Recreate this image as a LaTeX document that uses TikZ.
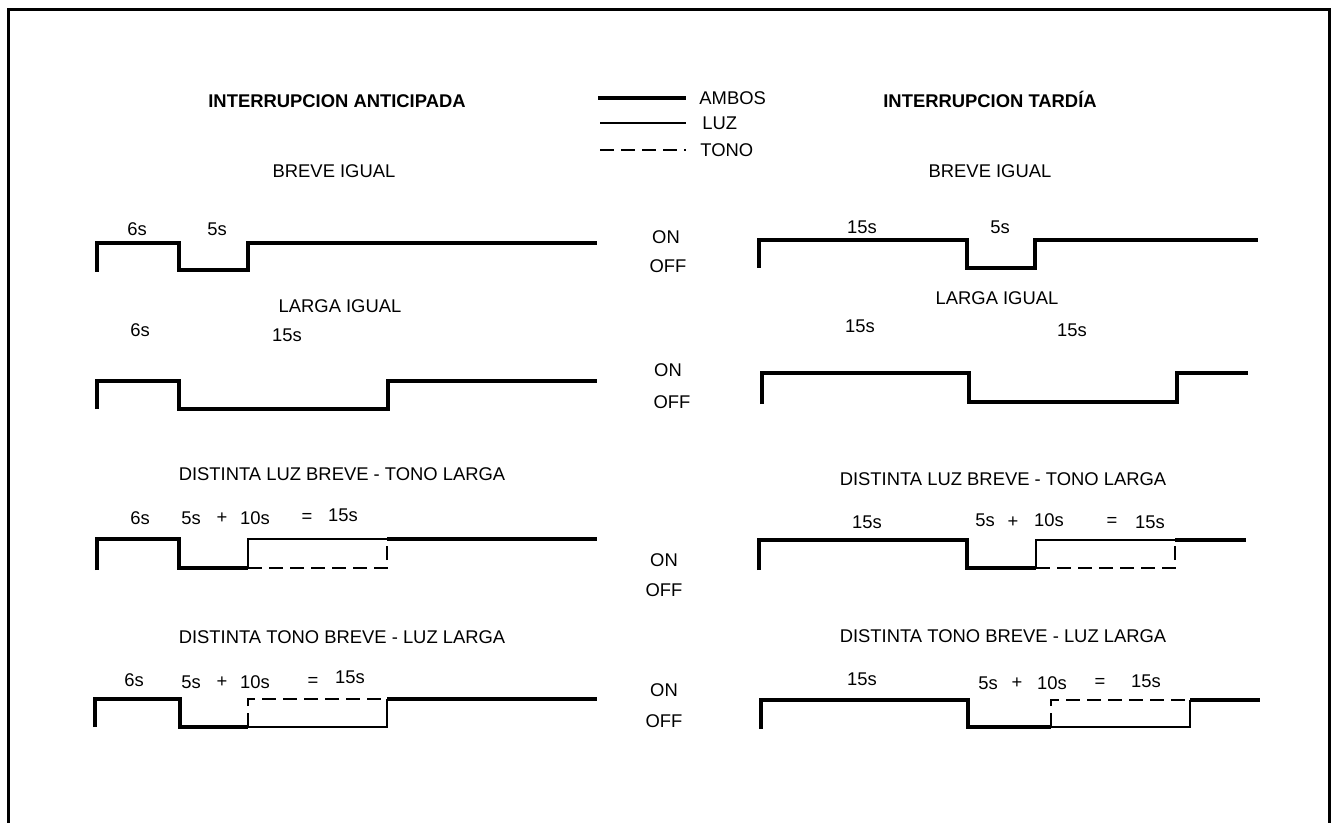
\documentclass[tikz,border=0pt]{standalone}
\usepackage{fontspec}
\setmainfont{Liberation Sans}
\begin{document}
\begin{tikzpicture}[x=0.5pt,y=-0.5pt,
  every node/.style={font=\fontsize{9.2pt}{11pt}\selectfont, inner sep=0pt},
  ttl/.style={font=\fontsize{9.2pt}{11pt}\selectfont\bfseries},
  ambos/.style={line width=2pt},
  luz/.style={line width=0.8pt},
  tono/.style={line width=1pt, dash pattern=on 7pt off 3.5pt},
  frame/.style={line width=1.5pt}]
\useasboundingbox (0,0) rectangle (1332,823);
\draw[frame] (8,835) -- (8,10) -- (1329,10) -- (1329,835);

% titles
\node[ttl] (tl) at (337,101) {INTERRUPCION ANTICIPADA};
\node[ttl] (tr) at (990,99) {INTERRUPCION TARD\'IA};

% legend
\coordinate (la1) at (598,98); \coordinate (la2) at (686,98);
\coordinate (lb1) at (600,123); \coordinate (lb2) at (686,123);
\coordinate (lc1) at (600,150); \coordinate (lc2) at (686,150);
\draw[ambos] (la1) -- (la2);
\draw[luz] (lb1) -- (lb2);
\draw[tono] (lc1) -- (lc2);
\node[anchor=west] (lga) at (699,98) {AMBOS};
\node[anchor=west] (lgb) at (702,123) {LUZ};
\node[anchor=west] (lgc) at (700,150) {TONO};

% ---------- left column ----------
\node (l1t) at (334,171) {BREVE IGUAL};
\node (l1a) at (137,229) {6s};
\node (l1b) at (217,229) {5s};
\draw[ambos] (97,272) -- (97,243) -- (179,243) -- (179,270) -- (248,270) -- (248,243) -- (597,243);

\node (l2t) at (340,306) {LARGA IGUAL};
\node (l2a) at (140,330) {6s};
\node (l2b) at (287,335) {15s};
\draw[ambos] (97,409) -- (97,381) -- (179,381) -- (179,409) -- (388,409) -- (388,381) -- (597,381);

\node (l3t) at (342,474) {DISTINTA LUZ BREVE - TONO LARGA};
\node (l3a) at (140,518) {6s};
\node (l3b) at (191,518) {5s};
\node (l3c) at (222,518) {+};
\node (l3d) at (255,518) {10s};
\node (l3e) at (307,518) {=};
\node (l3f) at (343,515) {15s};
\draw[ambos] (97,570) -- (97,539) -- (179,539) -- (179,568) -- (248,568);
\draw[luz] (248,568) -- (248,539) -- (387,539);
\draw[tono] (248,568) -- (387,568) -- (387,539);
\draw[ambos] (387,539) -- (597,539);

\node (l4t) at (342,637) {DISTINTA TONO BREVE - LUZ LARGA};
\node (l4a) at (134,680) {6s};
\node (l4b) at (191,682) {5s};
\node (l4c) at (222,682) {+};
\node (l4d) at (255,682) {10s};
\node (l4e) at (313,682) {=};
\node (l4f) at (350,677) {15s};
\draw[ambos] (95,727) -- (95,699) -- (180,699) -- (180,727) -- (248,727);
\draw[tono] (248,727) -- (248,699) -- (385,699);
\draw[luz] (248,727) -- (387,727) -- (387,699);
\draw[ambos] (387,699) -- (597,699);

% ---------- middle ON / OFF ----------
\node (on1) at (666,237) {ON};  \node (of1) at (668,266) {OFF};
\node (on2) at (668,370) {ON};  \node (of2) at (672,402) {OFF};
\node (on3) at (664,560) {ON};  \node (of3) at (664,590) {OFF};
\node (on4) at (664,690) {ON};  \node (of4) at (664,721) {OFF};

% ---------- right column ----------
\node (r1t) at (990,171) {BREVE IGUAL};
\node (r1a) at (862,227) {15s};
\node (r1b) at (1000,227) {5s};
\draw[ambos] (759,268) -- (759,240) -- (967,240) -- (967,268) -- (1035,268) -- (1035,240) -- (1258,240);

\node (r2t) at (997,298) {LARGA IGUAL};
\node (r2a) at (860,326) {15s};
\node (r2b) at (1072,330) {15s};
\draw[ambos] (762,404) -- (762,373) -- (969,373) -- (969,402) -- (1177,402) -- (1177,373) -- (1248,373);

\node (r3t) at (1003,479) {DISTINTA LUZ BREVE - TONO LARGA};
\node (r3a) at (867,522) {15s};
\node (r3b) at (985,520) {5s};
\node (r3c) at (1013,522) {+};
\node (r3d) at (1049,520) {10s};
\node (r3e) at (1112,522) {=};
\node (r3f) at (1150,522) {15s};
\draw[ambos] (759,570) -- (759,540) -- (967,540) -- (967,568) -- (1036,568);
\draw[luz] (1036,568) -- (1036,540) -- (1175,540);
\draw[tono] (1036,568) -- (1175,568) -- (1175,540);
\draw[ambos] (1175,540) -- (1246,540);

\node (r4t) at (1003,636) {DISTINTA TONO BREVE - LUZ LARGA};
\node (r4a) at (862,679) {15s};
\node (r4b) at (988,683) {5s};
\node (r4c) at (1017,683) {+};
\node (r4d) at (1052,683) {10s};
\node (r4e) at (1100,683) {=};
\node (r4f) at (1146,681) {15s};
\draw[ambos] (761,729) -- (761,700) -- (968,700) -- (968,727) -- (1051,727);
\draw[tono] (1051,727) -- (1051,700) -- (1187,700);
\draw[luz] (1051,727) -- (1190,727) -- (1190,700);
\draw[ambos] (1190,700) -- (1260,700);
\end{tikzpicture}
\end{document}
